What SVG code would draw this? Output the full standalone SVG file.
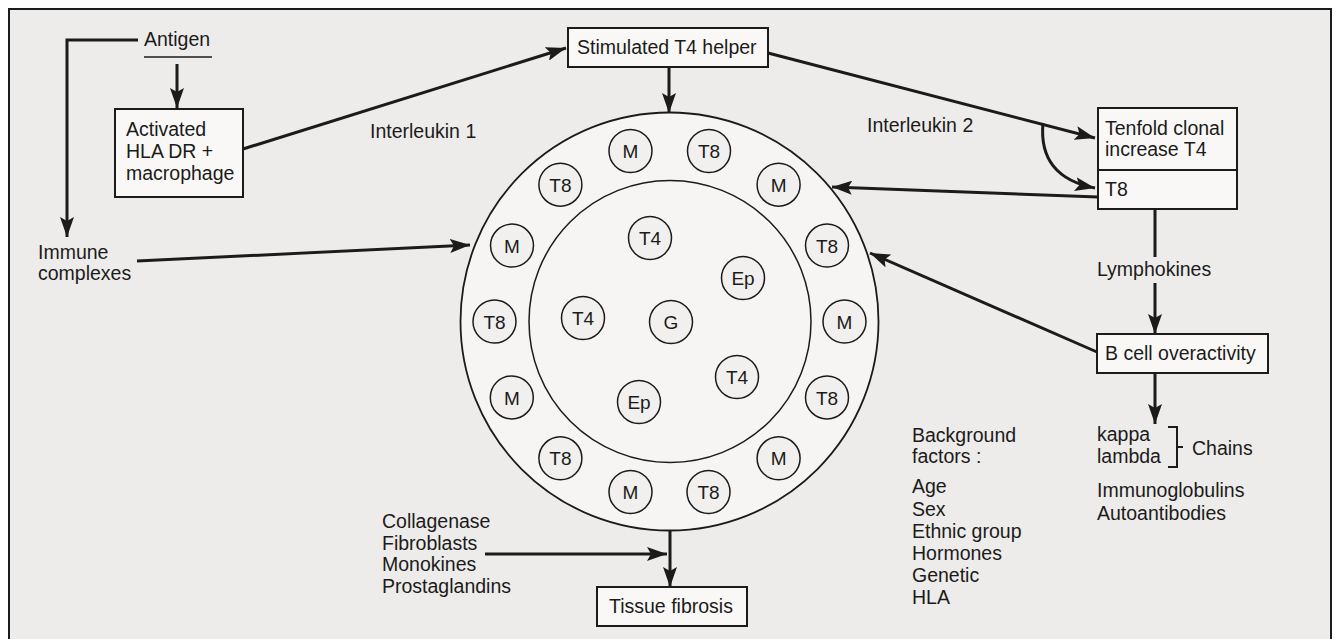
<svg xmlns="http://www.w3.org/2000/svg" width="1339" height="639" viewBox="0 0 1339 639">
<defs>
<style>
text{font-family:"Liberation Sans",Arial,sans-serif;font-size:19.5px;fill:#1b1b1b}
.box{fill:#f9f8f6;stroke:#1b1b1b;stroke-width:2}
.con{fill:none;stroke:#1b1b1b;stroke-width:3}
.cell{fill:#f1f0ee;stroke:#1b1b1b;stroke-width:1.5}
.ct{text-anchor:middle;font-size:19px}
</style>
<marker id="ah" markerUnits="userSpaceOnUse" markerWidth="22" markerHeight="14" refX="20" refY="7" orient="auto">
<path d="M0,0 L20,7 L0,14 L4,7 z" fill="#1b1b1b"/>
</marker>
</defs>
<rect x="0" y="0" width="1339" height="639" fill="#ffffff"/>
<rect id="frame" x="9" y="9" width="1322" height="640" fill="#edecea" stroke="#1b1b1b" stroke-width="2"/>

<g id="connectors">
<polyline class="con" points="138,40 67,40 67,237" marker-end="url(#ah)"/>
<line class="con" x1="177" y1="64" x2="177" y2="108" marker-end="url(#ah)"/>
<line class="con" x1="243" y1="149" x2="566" y2="48" marker-end="url(#ah)"/>
<line class="con" x1="669" y1="67" x2="669" y2="113" marker-end="url(#ah)"/>
<line class="con" x1="768" y1="53" x2="1095" y2="138" marker-end="url(#ah)"/>
<path class="con" d="M1043,123 Q1038,177 1095,188" marker-end="url(#ah)"/>
<line class="con" x1="1098" y1="197" x2="832" y2="187" marker-end="url(#ah)"/>
<line class="con" x1="137" y1="261" x2="470" y2="245" marker-end="url(#ah)"/>
<line class="con" x1="1155" y1="209" x2="1155" y2="257"/>
<line class="con" x1="1155" y1="283" x2="1155" y2="334" marker-end="url(#ah)"/>
<line class="con" x1="1097" y1="352" x2="870" y2="253" marker-end="url(#ah)"/>
<line class="con" x1="1155" y1="373" x2="1155" y2="424" marker-end="url(#ah)"/>
<line class="con" x1="485" y1="554" x2="667" y2="554" marker-end="url(#ah)"/>
<line class="con" x1="670" y1="530" x2="670" y2="587" marker-end="url(#ah)"/>
</g>

<g id="antigen">
<text x="144" y="46">Antigen</text>
<line x1="144" y1="57" x2="212" y2="57" stroke="#1b1b1b" stroke-width="1.5"/>
</g>

<g id="macrophage">
<rect class="box" x="115" y="109" width="128" height="88"/>
<text x="126" y="136">Activated</text>
<text x="126" y="158">HLA DR +</text>
<text x="126" y="180">macrophage</text>
</g>

<g id="interleukin1"><text x="370" y="138">Interleukin 1</text></g>

<g id="stimulated">
<rect class="box" x="568" y="28" width="200" height="39"/>
<text x="577" y="54">Stimulated T4 helper</text>
</g>

<g id="interleukin2"><text x="867" y="132">Interleukin 2</text></g>

<g id="tenfold">
<rect class="box" x="1098" y="108" width="139" height="101"/>
<line x1="1098" y1="170" x2="1237" y2="170" stroke="#1b1b1b" stroke-width="2"/>
<text x="1105" y="135">Tenfold clonal</text>
<text x="1105" y="156">increase T4</text>
<text x="1105" y="196">T8</text>
</g>

<g id="immune"><text x="38" y="259">Immune</text><text x="38" y="280">complexes</text></g>

<g id="lymphokines"><text x="1097" y="276">Lymphokines</text></g>

<g id="bcell">
<rect class="box" x="1097" y="334" width="171" height="39"/>
<text x="1105" y="360">B cell overactivity</text>
</g>

<g id="chains">
<text x="1097" y="441">kappa</text>
<text x="1097" y="463">lambda</text>
<path d="M1168,427 L1177,427 L1177,467 L1168,467 M1177,447 L1183,447" fill="none" stroke="#1b1b1b" stroke-width="2"/>
<text x="1192" y="455">Chains</text>
<text x="1097" y="497">Immunoglobulins</text>
<text x="1097" y="520">Autoantibodies</text>
</g>

<g id="background">
<text x="912" y="442">Background</text>
<text x="912" y="463">factors :</text>
<text x="912" y="493">Age</text>
<text x="912" y="516">Sex</text>
<text x="912" y="538">Ethnic group</text>
<text x="912" y="560">Hormones</text>
<text x="912" y="582">Genetic</text>
<text x="912" y="604">HLA</text>
</g>

<g id="fibro-factors">
<text x="382" y="528">Collagenase</text>
<text x="382" y="550">Fibroblasts</text>
<text x="382" y="571">Monokines</text>
<text x="382" y="593">Prostaglandins</text>
</g>

<g id="tissue">
<rect class="box" x="597" y="587" width="150" height="39"/>
<text x="609" y="613">Tissue fibrosis</text>
</g>

<g id="lesion">
<circle cx="669.5" cy="321.5" r="209" fill="#f6f5f3" stroke="#1b1b1b" stroke-width="1.8"/>
<circle cx="670" cy="321.5" r="141" fill="none" stroke="#1b1b1b" stroke-width="1.5"/>
<g id="c1"><circle class="cell" cx="709" cy="151" r="21.5"/><text class="ct" x="709" y="158">T8</text></g>
<g id="c2"><circle class="cell" cx="778.6" cy="184.7" r="21.5"/><text class="ct" x="778.6" y="191.5">M</text></g>
<g id="c3"><circle class="cell" cx="827" cy="245.6" r="21.5"/><text class="ct" x="827" y="252.5">T8</text></g>
<g id="c4"><circle class="cell" cx="844.5" cy="321.5" r="21.5"/><text class="ct" x="844.5" y="328.5">M</text></g>
<g id="c5"><circle class="cell" cx="827" cy="397.4" r="21.5"/><text class="ct" x="827" y="404.5">T8</text></g>
<g id="c6"><circle class="cell" cx="778.6" cy="458.3" r="21.5"/><text class="ct" x="778.6" y="465.3">M</text></g>
<g id="c7"><circle class="cell" cx="708.5" cy="492" r="21.5"/><text class="ct" x="708.5" y="499">T8</text></g>
<g id="c8"><circle class="cell" cx="630.5" cy="492" r="21.5"/><text class="ct" x="630.5" y="499">M</text></g>
<g id="c9"><circle class="cell" cx="560.4" cy="458.3" r="21.5"/><text class="ct" x="560.4" y="465.3">T8</text></g>
<g id="c10"><circle class="cell" cx="511.8" cy="397.4" r="21.5"/><text class="ct" x="511.8" y="404.5">M</text></g>
<g id="c11"><circle class="cell" cx="494.5" cy="321.5" r="21.5"/><text class="ct" x="494.5" y="328.5">T8</text></g>
<g id="c12"><circle class="cell" cx="512" cy="245.6" r="21.5"/><text class="ct" x="512" y="252.5">M</text></g>
<g id="c13"><circle class="cell" cx="560.4" cy="184.7" r="21.5"/><text class="ct" x="560.4" y="191.5">T8</text></g>
<g id="c14"><circle class="cell" cx="630.5" cy="151" r="21.5"/><text class="ct" x="630.5" y="158">M</text></g>
<g id="i1"><circle class="cell" cx="650" cy="238" r="21.5"/><text class="ct" x="650" y="245">T4</text></g>
<g id="i2"><circle class="cell" cx="743" cy="278" r="21.5"/><text class="ct" x="743" y="285">Ep</text></g>
<g id="i3"><circle class="cell" cx="583" cy="318" r="21.5"/><text class="ct" x="583" y="325">T4</text></g>
<g id="i4"><circle class="cell" cx="671" cy="322" r="21.5"/><text class="ct" x="671" y="329">G</text></g>
<g id="i5"><circle class="cell" cx="737" cy="377" r="21.5"/><text class="ct" x="737" y="384">T4</text></g>
<g id="i6"><circle class="cell" cx="639" cy="402" r="21.5"/><text class="ct" x="639" y="409">Ep</text></g>
</g>
</svg>
